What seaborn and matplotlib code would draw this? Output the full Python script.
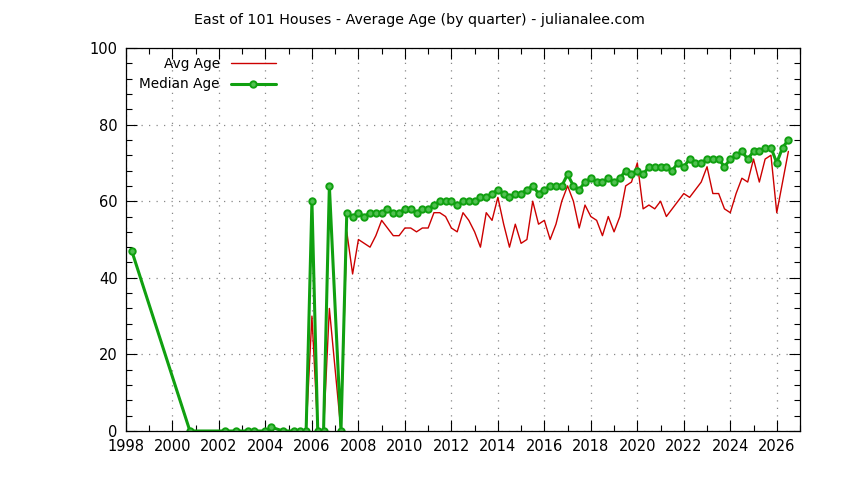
import numpy as np
import matplotlib
matplotlib.use("Agg")
import matplotlib.pyplot as plt
import seaborn as sns
import pandas as pd

# quarters with sales, avg and median age per quarter
quarters = [
    "1998Q2", "2000Q4", "2002Q2", "2002Q4", "2003Q2", "2003Q3", "2004Q1", "2004Q2",
    "2004Q4", "2005Q2", "2005Q3", "2005Q4", "2006Q1", "2006Q2", "2006Q3", "2006Q4",
    "2007Q2", "2007Q3", "2007Q4",
    "2008Q1", "2008Q2", "2008Q3", "2008Q4", "2009Q1", "2009Q2", "2009Q3", "2009Q4",
    "2010Q1", "2010Q2", "2010Q3", "2010Q4", "2011Q1", "2011Q2", "2011Q3", "2011Q4",
    "2012Q1", "2012Q2", "2012Q3", "2012Q4", "2013Q1", "2013Q2", "2013Q3", "2013Q4",
    "2014Q1", "2014Q2", "2014Q3", "2014Q4", "2015Q1", "2015Q2", "2015Q3", "2015Q4",
    "2016Q1", "2016Q2", "2016Q3", "2016Q4", "2017Q1", "2017Q2", "2017Q3", "2017Q4",
    "2018Q1", "2018Q2", "2018Q3", "2018Q4", "2019Q1", "2019Q2", "2019Q3", "2019Q4",
    "2020Q1", "2020Q2", "2020Q3", "2020Q4", "2021Q1", "2021Q2", "2021Q3", "2021Q4",
    "2022Q1", "2022Q2", "2022Q3", "2022Q4", "2023Q1", "2023Q2", "2023Q3", "2023Q4",
    "2024Q1", "2024Q2", "2024Q3", "2024Q4", "2025Q1", "2025Q2", "2025Q3", "2025Q4",
    "2026Q1", "2026Q2", "2026Q3",
]
avg_age = [
    47, 0, 0, 0, 0, 0, 0, 1, 0, 0, 0, 0, 30, 0, 0, 32, 0, 52, 41,
    50, 49, 48, 51, 55, 53, 51, 51,
    53, 53, 52, 53, 53, 57, 57, 56,
    53, 52, 57, 55, 52, 48, 57, 55,
    61, 54, 48, 54, 49, 50, 60, 54,
    55, 50, 54, 60, 64, 60, 53, 59,
    56, 55, 51, 56, 52, 56, 64, 65,
    70, 58, 59, 58, 60, 56, 58, 60,
    62, 61, 63, 65, 69, 62, 62, 58,
    57, 62, 66, 65, 71, 65, 71, 72,
    57, 65, 73,
]
median_age = [
    47, 0, 0, 0, 0, 0, 0, 1, 0, 0, 0, 0, 60, 0, 0, 64, 0, 57, 56,
    57, 56, 57, 57, 57, 58, 57, 57,
    58, 58, 57, 58, 58, 59, 60, 60,
    60, 59, 60, 60, 60, 61, 61, 62,
    63, 62, 61, 62, 62, 63, 64, 62,
    63, 64, 64, 64, 67, 64, 63, 65,
    66, 65, 65, 66, 65, 66, 68, 67,
    68, 67, 69, 69, 69, 69, 68, 70,
    69, 71, 70, 70, 71, 71, 71, 69,
    71, 72, 73, 71, 73, 73, 74, 74,
    70, 74, 76,
]

df = pd.DataFrame({"quarter": quarters, "avg": avg_age, "median": median_age})
df["x"] = [int(q[:4]) + (int(q[-1]) - 1) * 0.25 for q in df["quarter"]]

sns.set_style("ticks")
plt.rcParams["font.family"] = ["DejaVu Sans"]
plt.rcParams["font.size"] = 10
plt.rcParams["text.color"] = "black"
plt.rcParams["xtick.color"] = "black"
plt.rcParams["ytick.color"] = "black"

fig = plt.figure(figsize=(8.44, 4.8), dpi=100)
ax = fig.add_axes([126 / 844, 1 - 431 / 480, 674 / 844, 383 / 480])

sns.lineplot(data=df, x="x", y="avg", ax=ax, color="#cc0000", linewidth=1.0,
             label="Avg Age")
sns.lineplot(data=df, x="x", y="median", ax=ax, color="#10a010", linewidth=2.2,
             marker="o", markersize=4.6, markerfacecolor="#50c050",
             markeredgecolor="#10a010", markeredgewidth=1.4, label="Median Age")

ax.set_xlim(1998, 2027)
ax.set_ylim(0, 100)
ax.set_xticks(np.arange(1998, 2027, 2))
ax.set_xticks(np.arange(1998, 2028, 1), minor=True)
ax.set_yticks(np.arange(0, 101, 20))
ax.set_yticks(np.arange(0, 101, 4), minor=True)
ax.set_xlabel("")
ax.set_ylabel("")
ax.grid(True, which="major", linestyle=(0, (1, 5)), color="#888888", linewidth=0.9)
ax.tick_params(which="both", direction="in", top=True, right=True, colors="black",
               labelcolor="black", labelsize=10.5)
ax.tick_params(which="major", length=8, width=0.8, pad=6)
ax.tick_params(which="minor", length=4, width=0.8)
for s in ax.spines.values():
    s.set_color("black")
    s.set_linewidth(0.9)

leg = ax.legend(loc="upper right", bbox_to_anchor=(0.222, 0.976), frameon=False,
                markerfirst=False, fontsize=9.8, handlelength=3.3, handletextpad=0.8,
                labelspacing=0.45, borderpad=0, borderaxespad=0)
for t in leg.get_texts():
    t.set_color("black")

fig.text(0.497, 1 - 20 / 480, "East of 101 Houses - Average Age (by quarter) - julianalee.com",
         ha="center", va="center", fontsize=10.3, color="black")

fig.savefig("out.png", dpi=100)
